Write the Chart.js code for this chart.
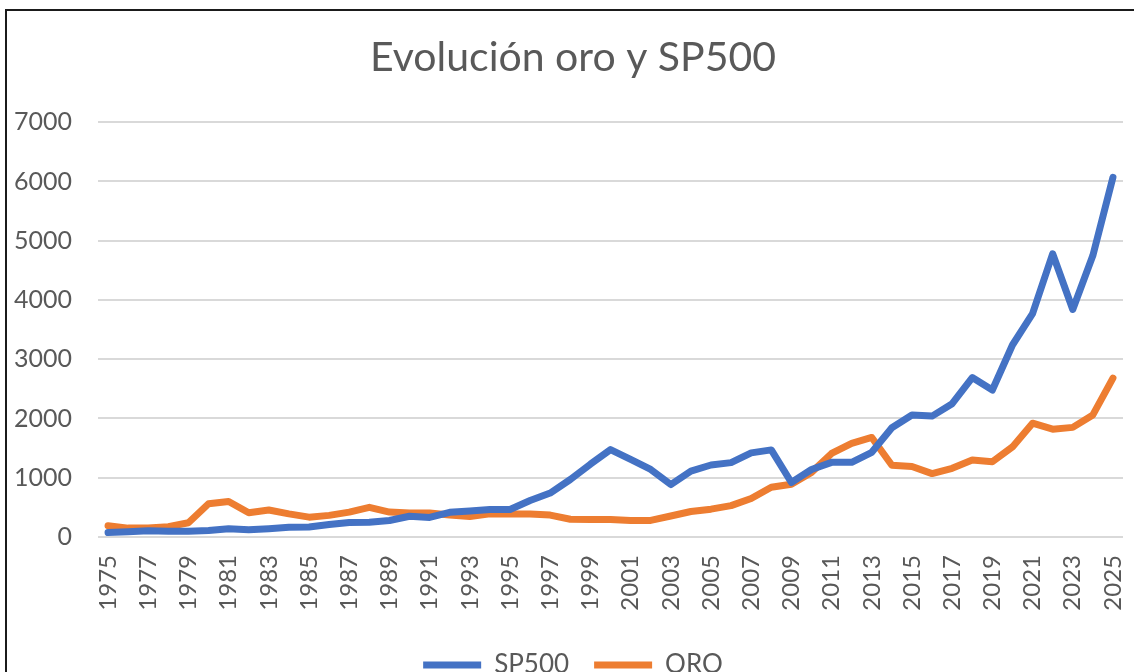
<!DOCTYPE html>
<html>
<head>
<meta charset="utf-8">
<script src="https://cdn.jsdelivr.net/npm/chart.js@4"></script>
<style>
  html, body { margin: 0; padding: 0; background: #fff; overflow: hidden; }
  #marco { position: absolute; left: 5px; top: 9px; width: 1200px; height: 800px;
           border-top: 2px solid #1b1b1b; border-left: 2px solid #1b1b1b; pointer-events: none; }
  #grafico { position: absolute; left: 0; top: 0; }
</style>
</head>
<body>
<canvas id="grafico" width="1134" height="701"></canvas>
<div id="marco"></div>
<script>
var anios = [];
for (var a = 1975; a <= 2025; a++) anios.push(String(a));

var sp500 = [75, 90, 105, 95, 98, 108, 140, 122, 141, 165,
             170, 211, 245, 250, 278, 350, 330, 417, 440, 466,
             465, 616, 741, 970, 1229, 1475, 1310, 1140, 885, 1112,
             1215, 1255, 1420, 1470, 920, 1140, 1260, 1260, 1430, 1845,
             2060, 2040, 2250, 2690, 2480, 3240, 3770, 4780, 3840, 4750,
             6070];

var oro = [190, 150, 150, 175, 240, 560, 600, 410, 455, 390,
           335, 365, 420, 500, 420, 405, 405, 370, 345, 390,
           390, 390, 370, 300, 295, 295, 280, 280, 355, 430,
           470, 530, 650, 840, 890, 1090, 1410, 1580, 1680, 1210,
           1190, 1070, 1160, 1300, 1270, 1520, 1920, 1820, 1850, 2060,
           2680];

var ticksY = [0, 1000, 2000, 3000, 4000, 5000, 6000, 7000];

var gris = "#595959";
var fuente = "Lato, 'Open Sans', sans-serif";

var ctx = document.getElementById("grafico").getContext("2d");
var chart = new Chart(ctx, {
    type: "line",
    data: {
        labels: anios,
        datasets: [{
            label: "SP500",
            data: sp500,
            borderColor: "#4472C4",
            backgroundColor: "#4472C4",
            borderWidth: 7,
            borderCapStyle: "round",
            borderJoinStyle: "round",
            pointRadius: 0,
            tension: 0
        }, {
            label: "ORO",
            data: oro,
            borderColor: "#ED7D31",
            backgroundColor: "#ED7D31",
            borderWidth: 7,
            borderCapStyle: "round",
            borderJoinStyle: "round",
            pointRadius: 0,
            tension: 0
        }]
    },
    options: {
        responsive: false,
        animation: false,
        devicePixelRatio: 1,
        layout: { padding: { left: 12, right: 0, top: 0, bottom: 13 } },
        plugins: {
            title: {
                display: true,
                text: "Evolución oro y SP500",
                color: gris,
                font: { family: fuente, size: 41, weight: "normal" },
                padding: { top: 33, bottom: 40 }
            },
            legend: {
                position: "bottom",
                labels: {
                    color: gris,
                    font: { family: fuente, size: 26 },
                    usePointStyle: true,
                    pointStyle: "line",
                    pointStyleWidth: 58,
                    padding: 25
                }
            },
            tooltip: { enabled: false }
        },
        scales: {
            x: {
                offset: true,
                grid: { display: false, drawTicks: false },
                border: { display: false },
                afterFit: function(scale) {
                    scale.height = 90;
                    scale.paddingLeft = 0;
                    scale.paddingRight = 11;
                },
                ticks: {
                    color: gris,
                    font: { family: fuente, size: 24 },
                    autoSkip: false,
                    minRotation: 90,
                    maxRotation: 90,
                    padding: 18,
                    callback: function(valor, i) {
                        return i % 2 === 0 ? anios[i] : "";
                    }
                }
            },
            y: {
                min: ticksY[0],
                max: ticksY[ticksY.length - 1],
                afterFit: function(scale) { scale.width = 86; },
                afterBuildTicks: function(scale) {
                    scale.ticks = ticksY.map(function(v) { return { value: v }; });
                },
                grid: { color: "#D9D9D9", lineWidth: 2, drawTicks: false },
                border: { display: false },
                ticks: {
                    color: gris,
                    font: { family: fuente, size: 25 },
                    padding: 26,
                    callback: function(valor) { return String(valor); }
                }
            }
        }
    }
});
</script>
</body>
</html>
